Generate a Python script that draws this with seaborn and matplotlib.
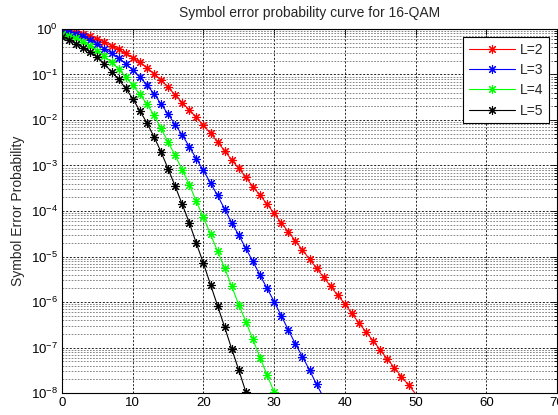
import matplotlib
matplotlib.use("Agg")
import matplotlib.pyplot as plt
import seaborn as sns
import numpy as np
import pandas as pd
from matplotlib.ticker import LogLocator, FixedLocator, NullFormatter

# ---- data ----
snr_l2 = list(range(0, 51))
ser_l2 = [0.955, 0.91, 0.85, 0.78, 0.69, 0.60, 0.51, 0.43, 0.355, 0.29,
          0.234, 0.186, 0.141, 0.105, 0.0759, 0.0525, 0.0355, 0.0240, 0.0166, 0.0115,
          0.0076, 0.0051, 0.0033, 0.0021, 0.00132, 8.7e-4, 5.5e-4, 3.4e-4, 2.24e-4, 1.41e-4,
          8.9e-5, 5.5e-5, 3.5e-5, 2.2e-5, 1.4e-5, 8.7e-6, 5.5e-6, 3.5e-6, 2.2e-6, 1.4e-6,
          9.1e-7, 5.6e-7, 3.4e-7, 2.2e-7, 1.4e-7, 8.9e-8, 5.6e-8, 3.6e-8, 2.3e-8, 1.5e-8,
          9.6e-9]

snr_l3 = list(range(0, 38))
ser_l3 = [0.92, 0.87, 0.79, 0.69, 0.575, 0.47, 0.37, 0.295, 0.229, 0.174,
          0.126, 0.089, 0.059, 0.038, 0.0224, 0.0135, 0.0079, 0.0047, 0.0026, 0.0014,
          7.8e-4, 4.1e-4, 2.2e-4, 1.1e-4, 5.5e-5, 2.95e-5, 1.5e-5, 7.8e-6, 3.9e-6, 2.0e-6,
          1.02e-6, 5.0e-7, 2.45e-7, 1.2e-7, 6.3e-8, 3.2e-8, 1.55e-8, 7.9e-9]

snr_l4 = list(range(0, 31))
ser_l4 = [0.79, 0.71, 0.62, 0.51, 0.42, 0.33, 0.25, 0.186, 0.132, 0.089,
          0.0575, 0.037, 0.0224, 0.0129, 0.0066, 0.0033, 0.00166, 8.1e-4, 3.8e-4, 1.62e-4,
          7.2e-5, 3.1e-5, 1.3e-5, 5.5e-6, 2.2e-6, 8.7e-7, 3.7e-7, 1.5e-7, 6.0e-8, 2.5e-8,
          1.05e-8]

snr_l5 = list(range(0, 27))
ser_l5 = [0.68, 0.575, 0.48, 0.39, 0.31, 0.24, 0.17, 0.115, 0.078, 0.050,
          0.0295, 0.016, 0.0087, 0.0043, 0.0020, 8.5e-4, 3.5e-4, 1.4e-4, 5.5e-5, 1.95e-5,
          7.1e-6, 2.4e-6, 8.3e-7, 2.8e-7, 9.3e-8, 3.2e-8, 1.05e-8]

labels = ["L=2", "L=3", "L=4", "L=5"]
colors = ["#ff0000", "#0000ff", "#00ff00", "#000000"]
x_ticks = [0, 10, 20, 30, 40, 50, 60, 70]
title = "Symbol error probability curve for 16-QAM"
ylabel = "Symbol Error Probability"
ymin, ymax = 1e-8, 1e0

# ---- plotting ----
sns.set_style("white")
plt.rcParams["font.family"] = ["Liberation Sans", "DejaVu Sans"]
plt.rcParams["mathtext.fontset"] = "custom"
plt.rcParams["mathtext.rm"] = "Liberation Sans"
plt.rcParams["mathtext.default"] = "regular"

fig = plt.figure(figsize=(5.58, 4.15), dpi=100)
ax = fig.add_axes([62 / 558, 22 / 415, 495 / 558, 364 / 415])

series = [(snr_l2, ser_l2), (snr_l3, ser_l3), (snr_l4, ser_l4), (snr_l5, ser_l5)]
for (xs, ys), lab, col in zip(series, labels, colors):
    df = pd.DataFrame({"snr": xs, "ser": ys})
    mark = [v >= ymin for v in ys]
    sns.lineplot(data=df, x="snr", y="ser", ax=ax, color=col, label=lab,
                 linewidth=0.8, marker=(8, 2, 0), markersize=6.5,
                 markeredgewidth=0.8, markeredgecolor=col, markevery=mark)

ax.set_yscale("log")
ax.set_xlim(0, 70)
ax.set_ylim(ymin, ymax)
ax.xaxis.set_major_locator(FixedLocator(x_ticks))
ax.yaxis.set_major_locator(LogLocator(base=10, numticks=20))
ax.yaxis.set_minor_locator(LogLocator(base=10, subs=np.arange(2, 10), numticks=100))
ax.yaxis.set_minor_formatter(NullFormatter())

dash = (0, (2.4, 2.0))
ax.grid(True, which="major", axis="both", color="black", linestyle=dash, linewidth=0.6)
ax.grid(True, which="minor", axis="y", color="#555555", linestyle=dash, linewidth=0.5)
ax.set_axisbelow(True)

ax.tick_params(which="both", direction="in", top=True, right=True, labelsize=9.5,
               colors="black", length=4, width=0.6, pad=3)
ax.tick_params(which="minor", length=2)
for s in ax.spines.values():
    s.set_color("black")
    s.set_linewidth(0.8)

ax.set_xlabel("")
ax.set_ylabel(ylabel, fontsize=10, labelpad=4)
ax.set_title(title, fontsize=10, pad=9)

leg = ax.legend(loc="upper right", bbox_to_anchor=(0.99, 0.985), fontsize=10,
                handlelength=3.3, numpoints=1, frameon=True, fancybox=False,
                framealpha=1, edgecolor="black", borderpad=0.4, labelspacing=0.45,
                handletextpad=0.4, borderaxespad=0.2)
leg.get_frame().set_linewidth(0.8)

fig.savefig("out.png", dpi=100)
